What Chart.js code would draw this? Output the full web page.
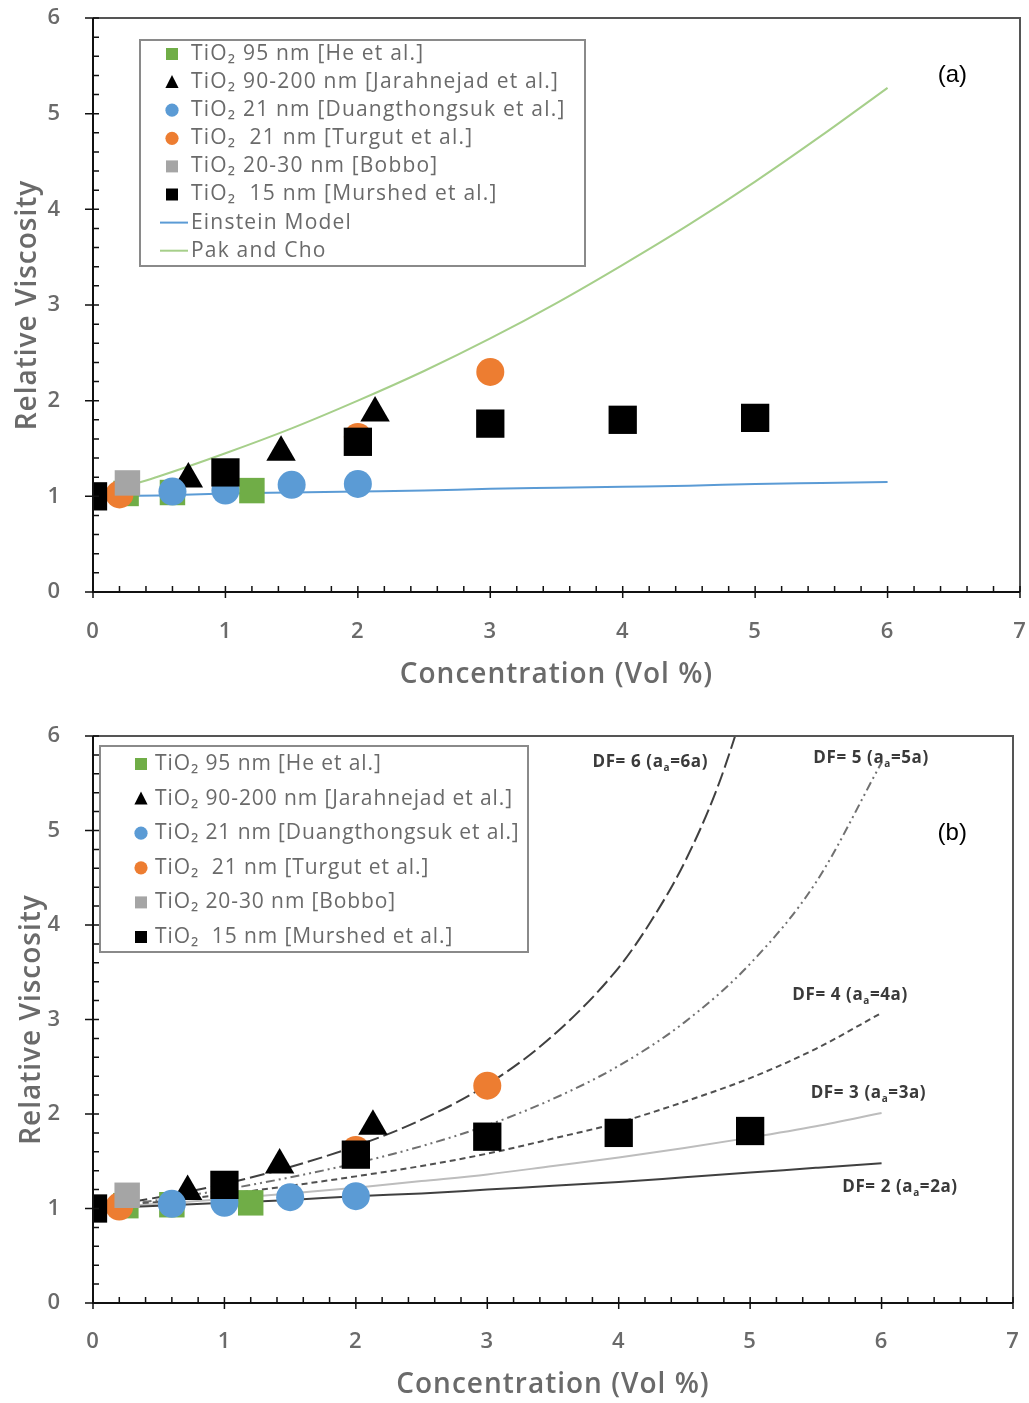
<!DOCTYPE html>
<html>
<head>
<meta charset="utf-8">
<script src="https://cdn.jsdelivr.net/npm/chart.js@4.4.0/dist/chart.umd.min.js"></script>
<style>
  html, body { margin: 0; padding: 0; background: #fff; overflow: hidden; }
  .wrap { position: absolute; left: 0; width: 1029px; }
  #wrapA { top: 0; height: 700px; }
  #wrapB { top: 700px; height: 703px; }
</style>
</head>
<body>
<div class="wrap" id="wrapA"><canvas id="chartA"></canvas></div>
<div class="wrap" id="wrapB"><canvas id="chartB"></canvas></div>
<script>
// Measured data (concentration vol %, relative viscosity)
const heX = [0.25, 0.6, 1.2];
const heY = [1.03, 1.04, 1.06];
const jarX = [0.72, 1.42, 2.13];
const jarY = [1.18, 1.46, 1.87];
const duaX = [0.6, 1.0, 1.5, 2.0];
const duaY = [1.05, 1.06, 1.12, 1.13];
const turX = [0.2, 2.0, 3.0];
const turY = [1.02, 1.62, 2.30];
const bobX = [0.26];
const bobY = [1.14];
const murX = [0, 1, 2, 3, 4, 5];
const murY = [1.00, 1.25, 1.57, 1.76, 1.80, 1.82];

// Model curves
const curveX = [0, 0.5, 1, 1.5, 2, 2.5, 3, 3.5, 4, 4.5, 5, 5.5, 6];
const einsteinY = [1.00, 1.01, 1.03, 1.04, 1.05, 1.06, 1.08, 1.09, 1.10, 1.11, 1.13, 1.14, 1.15];
const pakChoY = [1.00, 1.21, 1.45, 1.71, 2.00, 2.31, 2.65, 3.02, 3.42, 3.84, 4.29, 4.77, 5.27];
const df2Y = [1.00, 1.03, 1.06, 1.09, 1.13, 1.16, 1.20, 1.24, 1.28, 1.33, 1.38, 1.43, 1.48];
const df3Y = [1.00, 1.05, 1.10, 1.16, 1.22, 1.29, 1.36, 1.45, 1.54, 1.64, 1.75, 1.87, 2.01];
const df4Y = [1.00, 1.07, 1.15, 1.24, 1.34, 1.45, 1.58, 1.74, 1.91, 2.13, 2.38, 2.69, 3.07];
const df5Y = [1.00, 1.09, 1.20, 1.33, 1.48, 1.66, 1.88, 2.16, 2.51, 2.97, 3.59, 4.45, 5.72];
const df6X = [0, 0.5, 1, 1.5, 2, 2.5, 3, 3.5, 4, 4.25, 4.5, 4.75, 5];
const df6Y = [1.00, 1.12, 1.26, 1.44, 1.66, 1.94, 2.31, 2.83, 3.55, 4.05, 4.66, 5.45, 6.49];

const xTicks = [0, 1, 2, 3, 4, 5, 6, 7];
const yTicks = [0, 1, 2, 3, 4, 5, 6];

const seriesNames = [
    'TiO\u2082 95 nm [He et al.]',
    'TiO\u2082 90-200 nm [Jarahnejad et al.]',
    'TiO\u2082 21 nm [Duangthongsuk et al.]',
    'TiO\u2082  21 nm [Turgut et al.]',
    'TiO\u2082 20-30 nm [Bobbo]',
    'TiO\u2082  15 nm [Murshed et al.]'
];
const lineNamesA = ['Einstein Model', 'Pak and Cho'];
const dfLabels = ['2', '3', '4', '5', '6'];

const GREEN = '#70ad47', BLUE = '#5b9bd5', ORANGE = '#ed7d31', GRAY = '#a5a5a5';
const TEXT = '#6a6a6a';
const FONT = '"Open Sans", "DejaVu Sans", sans-serif';

const pts = (xs, ys) => xs.map((x, i) => ({ x, y: ys[i] }));

function markerSets() {
    return [
        { label: seriesNames[5], data: pts(murX, murY), pointStyle: 'rect', pointRadius: 20, backgroundColor: '#000', borderColor: '#000', order: 1 },
        { label: seriesNames[4], data: pts(bobX, bobY), pointStyle: 'rect', pointRadius: 18, backgroundColor: GRAY, borderColor: GRAY, order: 2 },
        { label: seriesNames[3], data: pts(turX, turY), pointStyle: 'circle', pointRadius: 14, backgroundColor: ORANGE, borderColor: ORANGE, order: 3 },
        { label: seriesNames[2], data: pts(duaX, duaY), pointStyle: 'circle', pointRadius: 14, backgroundColor: BLUE, borderColor: BLUE, order: 4 },
        { label: seriesNames[1], data: pts(jarX, jarY), pointStyle: 'triangle', pointRadius: 17, backgroundColor: '#000', borderColor: '#000', order: 5 },
        { label: seriesNames[0], data: pts(heX, heY), pointStyle: 'rect', pointRadius: 18, backgroundColor: GREEN, borderColor: GREEN, order: 6 }
    ].map(d => Object.assign({ showLine: false, borderWidth: 0, pointHoverRadius: d.pointRadius }, d));
}

function curve(label, xs, ys, color, dash, order) {
    return {
        label, data: pts(xs, ys), showLine: true, pointRadius: 0, pointHoverRadius: 0,
        borderColor: color, borderWidth: 2, borderDash: dash, fill: false,
        cubicInterpolationMode: 'monotone', order
    };
}

// wider letter spacing for all chart text
const spacingPlugin = {
    id: 'spacing',
    beforeDraw(chart) { chart.ctx.letterSpacing = '1px'; }
};

// axes, frame and tick marks (ticks point into the plot)
const framePlugin = {
    id: 'frame',
    afterDatasetsDraw(chart) {
        const { ctx, chartArea: a, scales: { x, y } } = chart;
        ctx.save();
        ctx.strokeStyle = '#555';
        ctx.lineWidth = 2;
        ctx.beginPath();
        ctx.moveTo(a.left, a.top); ctx.lineTo(a.right, a.top); ctx.lineTo(a.right, a.bottom);
        ctx.stroke();
        ctx.strokeStyle = '#111';
        ctx.beginPath();
        ctx.moveTo(a.left, a.top); ctx.lineTo(a.left, a.bottom); ctx.lineTo(a.right, a.bottom);
        ctx.stroke();
        ctx.lineWidth = 1.5;
        ctx.beginPath();
        for (let i = 0; i <= 35; i++) {
            const px = x.getPixelForValue(i * 0.2);
            const major = i % 5 === 0;
            ctx.moveTo(px, a.bottom + (major ? 6 : 0));
            ctx.lineTo(px, a.bottom - 6);
        }
        for (let i = 0; i <= 30; i++) {
            const py = y.getPixelForValue(i * 0.2);
            const major = i % 5 === 0;
            ctx.moveTo(a.left - (major ? 8 : 0), py);
            ctx.lineTo(a.left + 6, py);
        }
        ctx.stroke();
        ctx.restore();
    }
};

function drawMarker(ctx, style, color, cx, cy, s) {
    ctx.fillStyle = color;
    ctx.beginPath();
    if (style === 'rect') ctx.rect(cx - s, cy - s, 2 * s, 2 * s);
    else if (style === 'circle') ctx.arc(cx, cy, s * 1.1, 0, Math.PI * 2);
    else { ctx.moveTo(cx, cy - s * 1.2); ctx.lineTo(cx + s * 1.1, cy + s); ctx.lineTo(cx - s * 1.1, cy + s); ctx.closePath(); }
    ctx.fill();
}

// boxed legend inside the plot area
function legendPlugin(cfg) {
    return {
        id: 'boxLegend',
        afterDraw(chart) {
            const { ctx } = chart;
            const b = cfg.box;
            ctx.save();
            ctx.fillStyle = '#fff';
            ctx.fillRect(b.x, b.y, b.w, b.h);
            ctx.strokeStyle = '#8a8a8a';
            ctx.lineWidth = 2;
            ctx.strokeRect(b.x, b.y, b.w, b.h);
            ctx.font = cfg.font;
            ctx.letterSpacing = cfg.spacing;
            ctx.textBaseline = 'middle';
            ctx.textAlign = 'left';
            cfg.items.forEach((it, i) => {
                const cy = cfg.firstRow + i * cfg.rowGap;
                if (it.line) {
                    ctx.strokeStyle = it.color;
                    ctx.lineWidth = 2;
                    ctx.beginPath();
                    ctx.moveTo(cfg.markerX - 12, cy); ctx.lineTo(cfg.markerX + 16, cy);
                    ctx.stroke();
                } else {
                    drawMarker(ctx, it.style, it.color, cfg.markerX, cy, 6);
                }
                ctx.fillStyle = TEXT;
                ctx.fillText(it.text, cfg.textX, cy);
            });
            ctx.restore();
        }
    };
}

const markerLegend = [
    { text: seriesNames[0], style: 'rect', color: GREEN },
    { text: seriesNames[1], style: 'tri', color: '#000' },
    { text: seriesNames[2], style: 'circle', color: BLUE },
    { text: seriesNames[3], style: 'circle', color: ORANGE },
    { text: seriesNames[4], style: 'rect', color: GRAY },
    { text: seriesNames[5], style: 'rect', color: '#000' }
];

function panelLabel(text, fx, fy) {
    return {
        id: 'panelLabel',
        afterDraw(chart) {
            const { ctx, chartArea: a } = chart;
            ctx.save();
            ctx.letterSpacing = '0px';
            ctx.font = '24px "Liberation Sans", Arial, sans-serif';
            ctx.fillStyle = '#000';
            ctx.textAlign = 'center';
            ctx.textBaseline = 'middle';
            ctx.fillText(text, a.left + fx * (a.right - a.left), a.top + fy * (a.bottom - a.top));
            ctx.restore();
        }
    };
}

// DF curve labels with subscript "a"
const dfLabelPos = [
    { x: 6.14, y: 1.23 }, { x: 5.90, y: 2.22 }, { x: 5.76, y: 3.26 }, { x: 5.92, y: 5.77 }, { x: 4.24, y: 5.72 }
];
const dfLabelPlugin = {
    id: 'dfLabels',
    afterDraw(chart) {
        const { ctx, scales: { x, y } } = chart;
        const big = 'bold 17px ' + FONT, small = 'bold 10px ' + FONT;
        ctx.save();
        ctx.letterSpacing = '0.6px';
        ctx.fillStyle = '#3a3a3a';
        ctx.textBaseline = 'middle';
        ctx.textAlign = 'left';
        dfLabels.forEach((n, i) => {
            const p1 = 'DF= ' + n + ' (a', sub = 'a', p2 = '=' + n + 'a)';
            ctx.font = big;
            const w1 = ctx.measureText(p1).width, w2 = ctx.measureText(p2).width;
            ctx.font = small;
            const ws = ctx.measureText(sub).width;
            const cx = x.getPixelForValue(dfLabelPos[i].x), cy = y.getPixelForValue(dfLabelPos[i].y);
            const sx = cx - (w1 + ws + w2) / 2;
            ctx.font = big;
            ctx.fillText(p1, sx, cy);
            ctx.font = small;
            ctx.fillText(sub, sx + w1, cy + 6);
            ctx.font = big;
            ctx.fillText(p2, sx + w1 + ws, cy);
        });
        ctx.restore();
    }
};

function axisOptions(yTitlePad, xTitlePad, xAxisH, xTickLen) {
    return {
        x: {
            type: 'linear', min: 0, max: 7,
            afterBuildTicks: s => { s.ticks = xTicks.map(v => ({ value: v })); },
            afterFit: s => { s.height = xAxisH; s.paddingLeft = 0; s.paddingRight = 0; },
            // invisible tick marks only push the labels down
            grid: { display: true, drawOnChartArea: false, drawTicks: true, tickLength: xTickLen, color: 'rgba(0,0,0,0)' },
            border: { display: false },
            ticks: { padding: 0, color: TEXT, font: { family: FONT, size: 22, weight: '600' } },
            title: { display: true, text: 'Concentration (Vol %)', color: TEXT, padding: { top: 0, bottom: xTitlePad },
                font: { family: FONT, size: 28, weight: '600' } }
        },
        y: {
            type: 'linear', min: 0, max: 6,
            afterBuildTicks: s => { s.ticks = yTicks.map(v => ({ value: v })); },
            afterFit: s => { s.width = 93; s.paddingTop = 0; s.paddingBottom = 0; },
            grid: { display: false }, border: { display: false },
            ticks: { padding: 24, color: TEXT, font: { family: FONT, size: 22, weight: '600' } },
            title: { display: true, text: 'Relative Viscosity', color: TEXT, padding: { top: yTitlePad, bottom: 0 },
                font: { family: FONT, size: 28, weight: '600' } }
        }
    };
}

const baseOptions = {
    responsive: true,
    maintainAspectRatio: false,
    animation: false,
    events: [],
    plugins: { legend: { display: false }, tooltip: { enabled: false } }
};

// (a) measured data vs Einstein and Pak & Cho
new Chart(document.getElementById('chartA'), {
    type: 'scatter',
    data: {
        datasets: markerSets().concat([
            curve(lineNamesA[0], curveX, einsteinY, BLUE, [], 10),
            curve(lineNamesA[1], curveX, pakChoY, '#a6cf8a', [], 11)
        ])
    },
    options: Object.assign({}, baseOptions, {
        layout: { autoPadding: false, padding: { top: 18, right: 9, left: 0, bottom: 0 } },
        scales: axisOptions(11, 8, 108, 27)
    }),
    plugins: [spacingPlugin, framePlugin, panelLabel('(a)', 0.927, 0.10), legendPlugin({
        box: { x: 140, y: 40, w: 445, h: 226 }, firstRow: 54, rowGap: 28.1,
        markerX: 172, textX: 191, font: '21px ' + FONT, spacing: '1.2px',
        items: markerLegend.concat([
            { text: lineNamesA[0], line: true, color: BLUE },
            { text: lineNamesA[1], line: true, color: '#a6cf8a' }
        ])
    })]
});

// (b) measured data vs aggregate model for several fractal factors
new Chart(document.getElementById('chartB'), {
    type: 'scatter',
    data: {
        datasets: markerSets().concat([
            curve('DF=2', curveX, df2Y, '#404040', [], 10),
            curve('DF=3', curveX, df3Y, '#bdbdbd', [], 11),
            curve('DF=4', curveX, df4Y, '#505050', [6, 4], 12),
            curve('DF=5', curveX, df5Y, '#707070', [9, 4, 2, 4, 2, 4], 13),
            curve('DF=6', df6X, df6Y, '#404040', [15, 5], 14)
        ])
    },
    options: Object.assign({}, baseOptions, {
        layout: { autoPadding: false, padding: { top: 36, right: 16, left: 0, bottom: 0 } },
        scales: axisOptions(15, 1, 100, 26)
    }),
    plugins: [spacingPlugin, framePlugin, panelLabel('(b)', 0.934, 0.171), dfLabelPlugin, legendPlugin({
        box: { x: 100, y: 46, w: 428, h: 206 }, firstRow: 64, rowGap: 34.6,
        markerX: 141, textX: 155, font: '21px ' + FONT, spacing: '0.9px',
        items: markerLegend
    })]
});
</script>
</body>
</html>
